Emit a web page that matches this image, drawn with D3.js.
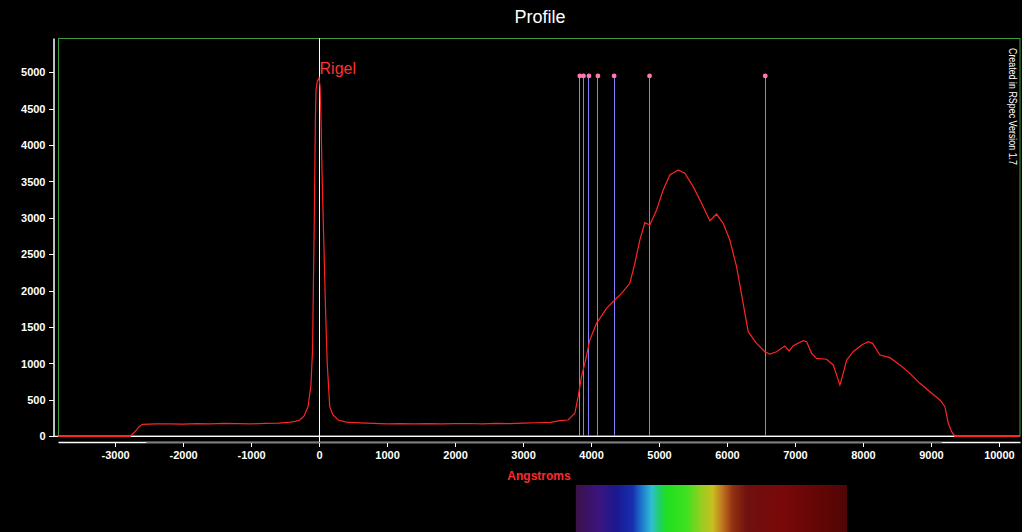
<!DOCTYPE html>
<html>
<head>
<meta charset="utf-8">
<script src="https://cdn.jsdelivr.net/npm/d3@7"></script>
<style>
  body { margin: 0; background: #000; }
  text { font-family: "Liberation Sans", Arial, sans-serif; }
</style>
</head>
<body>
<div class="canvas"></div>
<script>
// profile of Rigel, wavelength (Angstroms) vs intensity
const wavelengths = [
  -3840, -2780, -2700, -2648, -2600, -2400, -2200, -2000, -1800, -1600, -1400,
  -1200, -1000, -800, -600, -450, -350, -284, -220, -162, -120, -95, -88, -74,
  -63, -55, -45, -25, 0, 15, 30, 42, 55, 69, 94, 120, 157, 200, 280, 400, 600,
  800, 1000, 1200, 1400, 1600, 1800, 2000, 2200, 2400, 2600, 2800, 3000, 3200,
  3400, 3541, 3664, 3762, 3811, 3860, 3909, 3983, 4081, 4228, 4350, 4449, 4571,
  4645, 4718, 4792, 4865, 4964, 5061, 5160, 5282, 5380, 5503, 5626, 5748, 5846,
  5944, 6042, 6141, 6238, 6312, 6435, 6557, 6631, 6729, 6851, 6915, 6974, 7121,
  7171, 7245, 7318, 7465, 7563, 7621, 7661, 7710, 7760, 7856, 7980, 8077, 8142,
  8250, 8397, 8544, 8691, 8838, 8985, 9132, 9206, 9255, 9304, 9353, 10310,
];
const intensities = [
  0, 0, 70, 132, 165, 170, 172, 168, 175, 172, 178,
  174, 170, 178, 182, 190, 205, 224, 280, 407, 700, 1200, 1780, 2696,
  3613, 4300, 4757, 4880, 4920, 4800, 4300, 3700, 3200, 2696, 1780, 1000, 407, 300, 224, 195, 185,
  178, 172, 175, 170, 174, 170, 173, 176, 172, 178, 175, 180, 186,
  192, 214, 224, 316, 544, 819, 1003, 1323, 1552, 1758, 1872, 1964, 2102,
  2376, 2696, 2934, 2902, 3108, 3383, 3589, 3658, 3613, 3429, 3200, 2961, 3053,
  2925, 2696, 2330, 1827, 1437, 1277, 1162, 1130, 1162, 1240, 1172, 1245, 1313,
  1300, 1140, 1071, 1058, 980, 819, 705, 865, 1048, 1162, 1254, 1300, 1277,
  1117, 1080, 980, 865, 728, 613, 499, 407, 178, 63, 0, 0,
];

// Balmer lines marked on the profile
const lineWavelengths = [3835, 3889, 3970, 4102, 4340, 4861, 6563];
const lineTop = 4950;

const xTicks = [-3000, -2000, -1000, 0, 1000, 2000, 3000, 4000, 5000, 6000, 7000, 8000, 9000, 10000];
const yTicks = [0, 500, 1000, 1500, 2000, 2500, 3000, 3500, 4000, 4500, 5000];

// colour strip under the axis
const specWl = [3777, 4130, 4380, 4615, 4763, 4896, 5013, 5116, 5410, 5601, 5792, 5940, 6087, 6293, 6822, 7558, 7765];
const specColor = ["#3a1248", "#3c1480", "#1a1890", "#1830b0", "#2080d0", "#30c0d0", "#20d060", "#20e020",
  "#40e020", "#90d020", "#c8c020", "#c07020", "#903010", "#701010", "#7a0808", "#5a0505", "#500505"];

const width = 1022;
const height = 532;

const svg = d3
  .select(".canvas")
  .append("svg")
  .attr("width", width)
  .attr("height", height)
  .style("display", "block");

svg.append("rect").attr("width", width).attr("height", height).attr("fill", "#000");

// scales
const x = d3.scaleLinear().domain([-3840, 10310]).range([58, 1020]);
const y = d3.scaleLinear().domain([0, 5471]).range([436.3, 38]);

// title
svg
  .append("text")
  .attr("x", 540)
  .attr("y", 23)
  .attr("text-anchor", "middle")
  .attr("fill", "#fff")
  .attr("font-size", 18)
  .text("Profile");

// plot frame
svg
  .append("rect")
  .attr("x", 58.5)
  .attr("y", 38.5)
  .attr("width", 1020 - 58.5)
  .attr("height", 436 - 38.5)
  .attr("fill", "none")
  .attr("stroke", "#3c9c3c")
  .attr("stroke-width", 1);

// zero line
svg
  .append("line")
  .attr("x1", 53)
  .attr("x2", 1020)
  .attr("y1", y(0))
  .attr("y2", y(0))
  .attr("stroke", "#fff")
  .attr("stroke-width", 1.2);

// plain hyphen for negatives, no thousands separator
const plain = (d) => `${d}`;

// y axis
const yAxisGroup = svg.append("g").attr("transform", "translate(53.5,0)");
yAxisGroup.call(
  d3.axisLeft(y).tickValues(yTicks).tickFormat(plain).tickSize(5).tickSizeOuter(0).tickPadding(3)
);

// x axis
const xAxisGroup = svg.append("g").attr("transform", "translate(0,442)");
xAxisGroup.call(
  d3.axisBottom(x).tickValues(xTicks).tickFormat(plain).tickSize(5).tickSizeOuter(0).tickPadding(4)
);

[yAxisGroup, xAxisGroup].forEach((g) => {
  g.select(".domain").attr("stroke", "#fff").attr("stroke-width", 1.5);
  g.selectAll(".tick line").attr("stroke", "#fff").attr("shape-rendering", "crispEdges");
  g.selectAll(".tick text")
    .attr("fill", "#fff")
    .attr("font-size", 11)
    .attr("font-weight", "bold")
    .attr("font-family", '"Liberation Sans", Arial, sans-serif');
});

// grey band over the data range on the x axis line
xAxisGroup
  .append("line")
  .attr("x1", x(-2540))
  .attr("x2", x(9160))
  .attr("y1", 0)
  .attr("y2", 0)
  .attr("stroke", "#555")
  .attr("stroke-width", 1.5);

// x axis title
svg
  .append("text")
  .attr("x", 539)
  .attr("y", 480)
  .attr("text-anchor", "middle")
  .attr("fill", "#ff2a2a")
  .attr("font-size", 12)
  .attr("font-weight", "bold")
  .text("Angstroms");

// zero-order marker line
svg
  .append("line")
  .attr("x1", x(0))
  .attr("x2", x(0))
  .attr("y1", 38)
  .attr("y2", 442)
  .attr("stroke", "#fff")
  .attr("stroke-width", 1)
  .attr("shape-rendering", "crispEdges");

// balmer lines
const markers = svg.append("g");
markers
  .selectAll("line")
  .data(lineWavelengths)
  .enter()
  .append("line")
  .attr("x1", (d) => x(d))
  .attr("x2", (d) => x(d))
  .attr("y1", y(lineTop))
  .attr("y2", y(0))
  .attr("stroke", "#8080ff")
  .attr("stroke-width", 1)
  .attr("shape-rendering", "crispEdges");

// profile line
const line = d3
  .line()
  .x((d, i) => x(wavelengths[i]))
  .y((d) => y(d));

svg
  .append("path")
  .datum(intensities)
  .attr("fill", "none")
  .attr("stroke", "#ff2424")
  .attr("stroke-width", 1.2)
  .attr("d", line);

markers
  .selectAll("circle")
  .data(lineWavelengths)
  .enter()
  .append("circle")
  .attr("cx", (d) => x(d))
  .attr("cy", y(lineTop))
  .attr("r", 2.4)
  .attr("fill", "#ff78b4");

// star label
svg
  .append("text")
  .attr("x", x(0) + 0.5)
  .attr("y", 74)
  .attr("fill", "#ff3030")
  .attr("font-size", 16)
  .text("Rigel");

// side note
svg
  .append("text")
  .attr("transform", "translate(1009,48) rotate(90)")
  .attr("fill", "#fff")
  .attr("font-size", 10)
  .attr("textLength", 117)
  .attr("lengthAdjust", "spacingAndGlyphs")
  .text("Created in RSpec Version 1.7");

// spectrum strip
const grad = svg
  .append("defs")
  .append("linearGradient")
  .attr("id", "spec")
  .attr("gradientUnits", "userSpaceOnUse")
  .attr("x1", x(specWl[0]))
  .attr("x2", x(specWl[specWl.length - 1]))
  .attr("y1", 0)
  .attr("y2", 0);

grad
  .selectAll("stop")
  .data(specWl)
  .enter()
  .append("stop")
  .attr("offset", (d) => (x(d) - x(specWl[0])) / (x(specWl[specWl.length - 1]) - x(specWl[0])))
  .attr("stop-color", (d, i) => specColor[i]);

svg
  .append("rect")
  .attr("x", x(specWl[0]))
  .attr("y", 485)
  .attr("width", x(specWl[specWl.length - 1]) - x(specWl[0]))
  .attr("height", height - 485)
  .attr("fill", "url(#spec)");
</script>
</body>
</html>
